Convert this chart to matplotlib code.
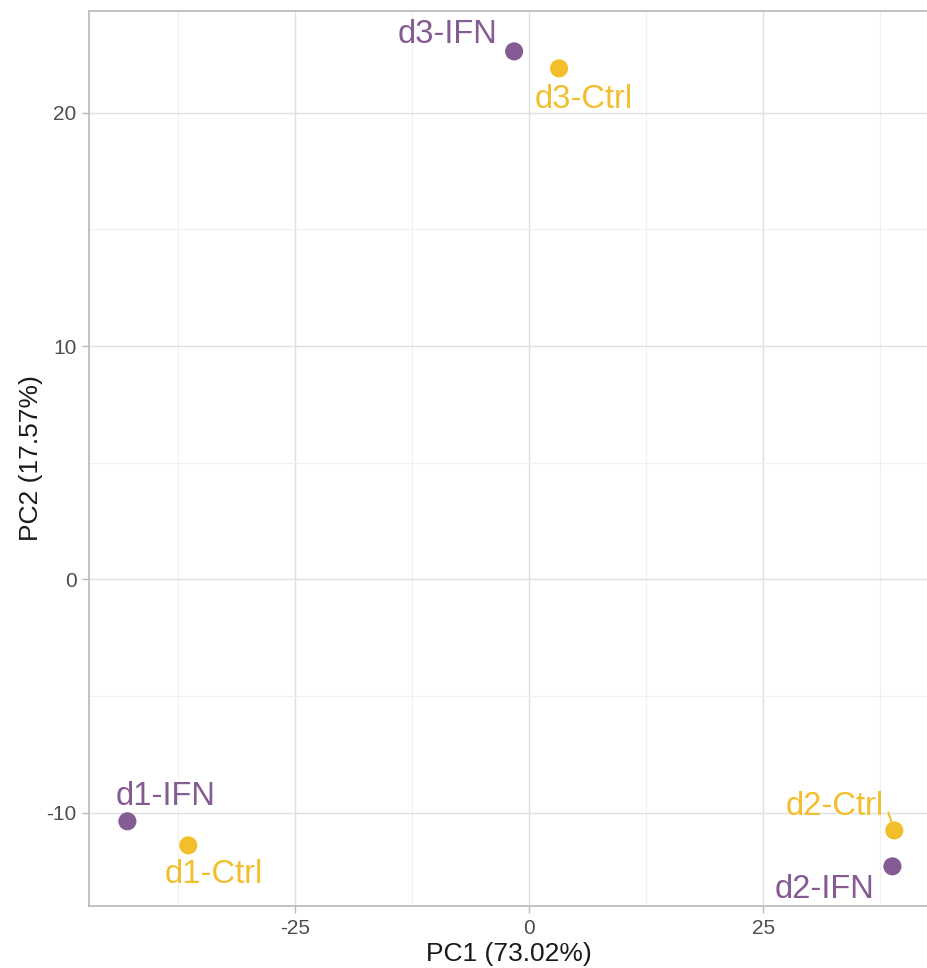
import matplotlib
matplotlib.use("Agg")
import matplotlib.pyplot as plt
from matplotlib.ticker import MultipleLocator

# PCA scores per sample --------------------------------------------------------
samples = ["d3-IFN", "d3-Ctrl", "d1-IFN", "d1-Ctrl", "d2-Ctrl", "d2-IFN"]
pc1 = [-1.6, 3.2, -42.9, -36.4, 39.0, 38.8]
pc2 = [22.63, 21.9, -10.37, -11.4, -10.76, -12.3]
condition = ["IFN", "Ctrl", "IFN", "Ctrl", "Ctrl", "IFN"]

pc1_var = 73.02
pc2_var = 17.57

colors = {"IFN": "#845B92", "Ctrl": "#F3BE2B"}

# label placement (pixels from the point, alignment)
label_pos = {
    "d3-IFN": (-17, 8, "right"),
    "d3-Ctrl": (-24, -40, "left"),
    "d1-IFN": (-12, 16, "left"),
    "d1-Ctrl": (-24, -38, "left"),
    "d2-Ctrl": (-11, 15, "right"),
    "d2-IFN": (-18, -32, "right"),
}

plt.rcParams["font.family"] = ["Liberation Sans", "DejaVu Sans"]
plt.rcParams["axes.unicode_minus"] = False

fig = plt.figure(figsize=(9.28, 9.68), dpi=100)
ax = fig.add_axes([89 / 928, 62 / 968, 1 - 89 / 928, (906 - 11) / 968])

ax.set_xlim(-47.0, 42.6)
ax.set_ylim(-14.0, 24.36)

ax.xaxis.set_major_locator(MultipleLocator(25))
ax.xaxis.set_minor_locator(MultipleLocator(12.5))
ax.yaxis.set_major_locator(MultipleLocator(10))
ax.yaxis.set_minor_locator(MultipleLocator(5))

ax.grid(which="major", color="#E0E0E0", linewidth=1.0)
ax.grid(which="minor", color="#F0F0F0", linewidth=0.8)
ax.set_axisbelow(True)

for side in ["top", "left", "bottom"]:
    ax.spines[side].set_color("#B8B8B8")
    ax.spines[side].set_linewidth(1.2)
ax.spines["right"].set_visible(False)

ax.tick_params(which="major", length=5, width=1.0, color="#B8B8B8",
               labelsize=15, labelcolor="#4D4D4D", pad=4)
ax.tick_params(which="minor", length=0)

point_colors = [colors[c] for c in condition]
ax.scatter(pc1, pc2, s=170, c=point_colors, edgecolors="none", zorder=3)

for name, x, y, c in zip(samples, pc1, pc2, condition):
    dx, dy, ha = label_pos[name]
    ax.annotate(name, (x, y), xytext=(dx, dy), textcoords="offset pixels",
                ha=ha, va="baseline", fontsize=23.5, color=colors[c], zorder=4)

# short connector from d2-Ctrl label to its point
i = samples.index("d2-Ctrl")
ax.annotate("", (pc1[i], pc2[i]), xytext=(-6, 18), textcoords="offset pixels",
            arrowprops=dict(arrowstyle="-", color=colors["Ctrl"], lw=1.5,
                            shrinkA=0, shrinkB=5.2), zorder=4)

ax.set_xlabel(f"PC1 ({pc1_var:.2f}%)", fontsize=19, color="#1A1A1A", labelpad=3)
ax.set_ylabel(f"PC2 ({pc2_var:.2f}%)", fontsize=19, color="#1A1A1A", labelpad=2)

fig.savefig("out.png", dpi=100)
